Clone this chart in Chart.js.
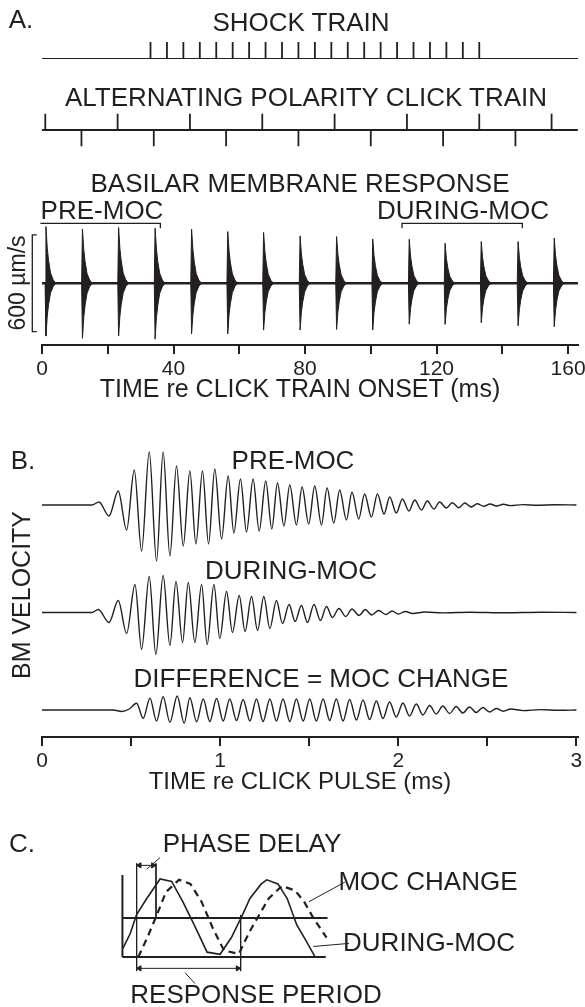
<!DOCTYPE html>
<html>
<head>
<meta charset="utf-8">
<script src="https://cdn.jsdelivr.net/npm/chart.js@4.4.1/dist/chart.umd.min.js"></script>
<style>
  html, body { margin: 0; padding: 0; background: #fff; }
  body { position: relative; width: 585px; height: 1007px; overflow: hidden;
         font-family: "Liberation Sans", Arial, sans-serif; color: #231f20; }
  canvas { position: absolute; left: 0; top: 0; }
  .lbl { position: absolute; white-space: nowrap; line-height: 1; font-size: 26px;
         transform: translate(-50%, -50%); }
  .ax { font-size: 25px; }
  .rot { transform: translate(-50%, -50%) rotate(-90deg); }
</style>
</head>
<body>
<canvas id="shock" width="640" height="1007"></canvas>
<canvas id="clicks" width="640" height="1007"></canvas>
<canvas id="bm" width="640" height="385"></canvas>
<canvas id="pulse" width="640" height="777"></canvas>
<canvas id="scheme" width="640" height="1007"></canvas>

<div class="lbl" style="left:21px;top:19px">A.</div>
<div class="lbl" style="left:301px;top:22px">SHOCK TRAIN</div>
<div class="lbl" style="left:306px;top:97px">ALTERNATING POLARITY CLICK TRAIN</div>
<div class="lbl" style="left:300px;top:183px">BASILAR MEMBRANE RESPONSE</div>
<div class="lbl" style="left:102px;top:210px">PRE-MOC</div>
<div class="lbl" style="left:463px;top:210px">DURING-MOC</div>
<div class="lbl ax rot" style="left:17px;top:283px;font-size:23px">600 µm/s</div>
<div class="lbl ax" style="left:300px;top:388px">TIME re CLICK TRAIN ONSET (ms)</div>

<div class="lbl" style="left:23px;top:460px">B.</div>
<div class="lbl" style="left:293px;top:460px">PRE-MOC</div>
<div class="lbl" style="left:291px;top:570px">DURING-MOC</div>
<div class="lbl" style="left:321px;top:678px">DIFFERENCE = MOC CHANGE</div>
<div class="lbl ax rot" style="left:21px;top:595px">BM VELOCITY</div>
<div class="lbl ax" style="left:300px;top:781px;font-size:24px">TIME re CLICK PULSE (ms)</div>

<div class="lbl" style="left:22px;top:843px">C.</div>
<div class="lbl" style="left:252px;top:843px">PHASE DELAY</div>
<div class="lbl" style="left:428px;top:881px">MOC CHANGE</div>
<div class="lbl" style="left:429px;top:942px">DURING-MOC</div>
<div class="lbl" style="left:256px;top:994px">RESPONSE PERIOD</div>

<script>
// A. shock train / click train / basilar membrane response, time in ms
const shockTimes = [33, 38, 43, 48, 53, 58, 63, 68, 73, 78, 83, 88, 93, 98, 103, 108, 113, 118, 123, 128, 133];
const clickTimes = [1, 12, 23, 34, 45, 56, 67, 78, 89, 100, 111, 122, 133, 144, 155];
const clickPolarity = [1, -1, 1, -1, 1, -1, 1, -1, 1, -1, 1, -1, 1, -1, 1];
const burstTimes = [1.2, 12.3, 23.3, 34.4, 45.5, 56.5, 67.4, 78.5, 89.6, 100.6, 111.7, 122.6, 133.6, 144.8, 155.8];
const burstPeak = [352, 337, 346, 342, 335, 321, 315, 294, 290, 275, 273, 248, 259, 259, 280];      // um/s
const burstTrough = [-327, -341, -327, -346, -313, -313, -290, -290, -286, -290, -253, -255, -244, -263, -269];
const trainTicks = [0, 20, 40, 60, 80, 100, 120, 140, 160];
const trainTickLabels = [0, 40, 80, 120, 160];
const scaleBar = 600;            // um/s
const preMocWindow = [-0.5, 36];
const duringMocWindow = [109.5, 146.1];

// B. single click responses, time in ms, velocity in arbitrary units
const preTimes = [0, 0.28, 0.32, 0.376, 0.428, 0.475, 0.518, 0.559, 0.602, 0.643, 0.68, 0.718, 0.755, 0.793, 0.83, 0.864, 0.901, 0.935, 0.97, 1.008,
  1.045, 1.077, 1.114, 1.148, 1.185, 1.219, 1.256, 1.29, 1.322, 1.358, 1.391, 1.428, 1.46, 1.497, 1.531, 1.569, 1.6, 1.638, 1.671, 1.709,
  1.74, 1.778, 1.811, 1.849, 1.883, 1.92, 1.952, 1.989, 2.023, 2.06, 2.092, 2.13, 2.163, 2.2, 2.232, 2.27, 2.303, 2.34, 2.373, 2.41,
  2.443, 2.48, 2.515, 2.552, 2.59, 2.63, 2.7, 2.78, 2.88, 3];
const preAmp = [0, 0, 3, -11, 14, -25, 35, -46, 53, -56, 53, -51, 39, -41, 34, -39, 34, -39, 36, -34,
  29, -28, 26, -27, 26, -26, 24, -24, 22, -21, 20, -20, 18, -19, 19, -20, 17, -18, 15, -15,
  13, -14, 11, -12, 11, -9, 8, -8, 6, -6, 5, -5, 4, -4, 3, -3, 2.3, -2.7, 2, -2,
  1.3, -1.3, 1, -1, 0.7, -0.6, 0.4, -0.3, 0.3, 0];
const duringTimes = [0, 0.28, 0.316, 0.376, 0.428, 0.475, 0.522, 0.559, 0.602, 0.639, 0.68, 0.718, 0.752, 0.789, 0.821, 0.858, 0.896, 0.927, 0.965, 0.998,
  1.036, 1.069, 1.107, 1.14, 1.176, 1.21, 1.245, 1.279, 1.316, 1.35, 1.387, 1.421, 1.456, 1.49, 1.527, 1.563, 1.597, 1.63, 1.667, 1.705,
  1.74, 1.78, 1.815, 1.85, 1.89, 1.93, 1.965, 2, 2.04, 2.08, 2.15, 2.25, 2.4, 2.6, 2.8, 3];
const duringAmp = [0, 0, 3, -10, 12, -21, 28, -37, 36, -42, 37, -33, 31, -30, 30, -30, 28, -32, 28, -26,
  21, -20, 17, -19, 16, -18, 16, -16, 12, -11, 8, -9, 7, -10, 8, -8, 6, -5, 4, -4,
  3.5, -3, 3, -2.5, 2, -2, 1.5, -1.5, 1, -1, 0.5, -0.4, 0.3, -0.3, 0.2, 0];
const diffTimes = [0, 0.4, 0.447, 0.49, 0.531, 0.568, 0.606, 0.643, 0.68, 0.718, 0.759, 0.798, 0.83, 0.868, 0.905, 0.942, 0.98, 1.017, 1.054, 1.092,
  1.129, 1.167, 1.204, 1.241, 1.279, 1.316, 1.353, 1.391, 1.428, 1.466, 1.503, 1.54, 1.578, 1.615, 1.652, 1.69, 1.727, 1.765, 1.802, 1.839,
  1.877, 1.914, 1.951, 1.989, 2.026, 2.063, 2.101, 2.138, 2.176, 2.213, 2.25, 2.288, 2.325, 2.362, 2.4, 2.437, 2.475, 2.512, 2.55, 2.59,
  2.63, 2.7, 2.8, 2.9, 3];
const diffAmp = [0, 0, -1.5, 1, 6.7, -8.3, 11.7, -11, 13.3, -12.3, 14, -13.3, 12.3, -11.7, 11, -11.5, 11.5, -11, 11, -10.5,
  10.5, -11, 11, -11.5, 11, -11, 11, -11.5, 11, -11, 11, -11, 11, -10.5, 11, -11, 10.5, -10, 10, -9.5,
  9, -8.5, 8, -7, 7, -6, 6, -5, 4.5, -4, 4, -3.5, 3.5, -3, 3, -2.5, 2.5, -2, 1.5, -1.2,
  1, -0.6, 0.4, -0.3, 0];
const pulseTicks = [0, 0.5, 1, 1.5, 2, 2.5, 3];
const pulseTickLabels = [0, 1, 2, 3];

// C. schematic, x in arbitrary time units, y in units of the response amplitude
const duringShape = [[0.2, -0.78], [3.7, -0.41], [6.9, 0.09], [11.8, 0.5], [18.3, 1], [23.9, 0.94], [29.3, 0.42], [34.8, -0.17],
  [41.1, -0.875], [47.4, -0.93], [52.9, -0.5], [58.3, 0.08], [61.9, 0.5], [67.4, 0.875], [70.1, 0.98], [75.5, 0.875],
  [80, 0.5], [84.6, -0.17], [89.1, -0.58], [93.6, -1]];
const changeShape = [[7.7, -1], [12.1, -0.5], [16.7, 0.08], [21.2, 0.67], [27.5, 0.98], [33, 0.875], [38.4, 0.42], [43.8, -0.25],
  [49.3, -0.83], [56.5, -0.92], [61.9, -0.33], [67.4, 0.17], [71, 0.5], [77.4, 0.82], [83.7, 0.71], [88.2, 0.42],
  [92.7, 0], [99.1, -0.5]];
const phaseDelay = [6.9, 16.3];
const responsePeriod = [6.9, 57.4];

(() => {
  const ink = '#231f20';
  const W = 640;
  Chart.defaults.font.family = '"Liberation Sans", Arial, sans-serif';
  Chart.defaults.color = ink;

  const line = (data, extra) => Object.assign({
    data, borderColor: ink, borderWidth: 2, pointRadius: 0, tension: 0, fill: false
  }, extra || {});

  const xy = (xs, ys, off) => xs.map((x, i) => ({x, y: ys[i] + (off || 0)}));
  const pairs = (arr) => arr.map(([x, y]) => ({x, y}));

  // hidden-axis frame: chart area placed at l..r, t..b on the canvas
  const frame = (canvasH, area, xr, yr, axis) => {
    const opts = {
      responsive: false,
      animation: false,
      events: [],
      layout: {padding: {left: area.l, right: W - area.r, top: area.t, bottom: axis ? 0 : canvasH - area.b}},
      plugins: {legend: {display: false}, tooltip: {enabled: false}},
      scales: {
        x: {type: 'linear', min: xr[0], max: xr[1], display: false},
        y: {type: 'linear', min: yr[0], max: yr[1], display: false}
      }
    };
    if (axis) {
      Object.assign(opts.scales.x, {
        display: true,
        afterBuildTicks: s => { s.ticks = axis.ticks.map(v => ({value: v})); },
        afterFit: s => { s.height = canvasH - area.b; },
        ticks: {autoSkip: false, maxRotation: 0, padding: 3, font: {size: 21}, color: ink,
                callback: v => axis.labels.includes(v) ? String(v) : ''},
        grid: {drawOnChartArea: false, drawTicks: true, tickLength: 9, lineWidth: 2, color: ink},
        border: {display: true, width: 2, color: ink}
      });
    }
    return opts;
  };

  const trainX = [0, 163];   // ms, 42px .. 578px

  // shock train
  const shockTicks = [];
  shockTimes.forEach(t => shockTicks.push({x: t, y: 0}, {x: t, y: 1}, {x: t, y: null}));
  new Chart(document.getElementById('shock'), {
    type: 'line',
    data: {datasets: [
      line([{x: trainX[0], y: 0}, {x: trainX[1], y: 0}]),
      line(shockTicks, {borderWidth: 1.8, spanGaps: false})
    ]},
    options: frame(1007, {l: 42, r: 577.9, t: 42, b: 59}, trainX, [0, 1])
  });

  // alternating polarity click train
  const clickTicks = [];
  clickTimes.forEach((t, i) => clickTicks.push({x: t, y: 0}, {x: t, y: clickPolarity[i]}, {x: t, y: null}));
  new Chart(document.getElementById('clicks'), {
    type: 'line',
    data: {datasets: [
      line([{x: trainX[0], y: 0}, {x: trainX[1], y: 0}]),
      line(clickTicks, {borderWidth: 1.8, spanGaps: false})
    ]},
    options: frame(1007, {l: 42, r: 577.9, t: 113.5, b: 146.5}, trainX, [-1, 1])
  });

  // basilar membrane response: each click response drawn as a filled spike
  const spike = [[-0.25, 0], [0, 1], [0.4, 0.62], [0.8, 0.4], [1.4, 0.18], [2.2, 0.06], [3, 0]];
  const envelope = vals => {
    const pts = [{x: trainX[0], y: 0}];
    burstTimes.forEach((t, i) => spike.forEach(([dt, f]) => pts.push({x: t + dt, y: vals[i] * f})));
    pts.push({x: trainX[1], y: 0});
    return pts;
  };
  const bracket = (w) => [{x: w[0], y: 341}, {x: w[0], y: 372}, {x: w[1], y: 372}, {x: w[1], y: 341}];
  const half = scaleBar / 2;
  new Chart(document.getElementById('bm'), {
    type: 'line',
    data: {datasets: [
      line([{x: trainX[0], y: 0}, {x: trainX[1], y: 0}], {borderWidth: 2.5}),
      line(envelope(burstPeak), {borderWidth: 1, fill: 'origin', backgroundColor: ink}),
      line(envelope(burstTrough), {borderWidth: 1, fill: 'origin', backgroundColor: ink}),
      line([{x: -1.6, y: half}, {x: -2.95, y: half}, {x: -2.95, y: -half}, {x: -1.6, y: -half}], {borderWidth: 1.3, clip: false}),
      line(bracket(preMocWindow), {borderWidth: 1.3, clip: false}),
      line(bracket(duringMocWindow), {borderWidth: 1.3, clip: false})
    ]},
    options: frame(385, {l: 42, r: 577.9, t: 218.8, b: 345}, trainX, [-382.5, 400],
                   {ticks: trainTicks, labels: trainTickLabels})
  });

  // B. single click responses stacked above the time axis
  const offsets = {pre: 232, during: 124.5, diff: 27};
  const wave = {borderWidth: 1.4, cubicInterpolationMode: 'monotone'};
  new Chart(document.getElementById('pulse'), {
    type: 'line',
    data: {datasets: [
      line(xy(preTimes, preAmp, offsets.pre), wave),
      line(xy(duringTimes, duringAmp, offsets.during), wave),
      line(xy(diffTimes, diffAmp, offsets.diff), wave)
    ]},
    options: frame(777, {l: 42, r: 578.2, t: 440, b: 737}, [0, 3.01], [0, 297],
                   {ticks: pulseTicks, labels: pulseTickLabels})
  });

  // C. schematic of phase delay and response period
  const thin = {borderWidth: 1};
  const arrow = (y, a, b) => line([{x: a, y}, {x: b, y}], {
    borderWidth: 1, pointStyle: 'triangle', pointRadius: 3, pointRotation: [-90, 90],
    pointBackgroundColor: ink, pointBorderColor: ink
  });
  new Chart(document.getElementById('scheme'), {
    type: 'line',
    data: {datasets: [
      line([{x: 0, y: -1}, {x: 0, y: 1.1}]),
      line([{x: 0, y: 0}, {x: 99.6, y: 0}]),
      line([{x: 0, y: -1}, {x: 98.7, y: -1}]),
      line(pairs(duringShape), {borderWidth: 1.6}),
      line(pairs(changeShape), {borderWidth: 2.2, borderDash: [7, 5]}),
      line([{x: phaseDelay[0], y: 1.4}, {x: phaseDelay[0], y: -1.36}], thin),
      line([{x: phaseDelay[1], y: 1.4}, {x: phaseDelay[1], y: 0}], thin),
      line([{x: responsePeriod[1], y: 0.08}, {x: responsePeriod[1], y: -1.36}], thin),
      arrow(1.35, phaseDelay[0] + 1.4, phaseDelay[1] - 1.4),
      arrow(-1.29, responsePeriod[0] + 1.4, responsePeriod[1] - 1.4),
      line([{x: 11.8, y: 1.25}, {x: 18.3, y: 1.55}], thin),
      line([{x: 30.4, y: -1.4}, {x: 35.2, y: -1.68}], thin),
      line([{x: 90.6, y: 0.42}, {x: 108, y: 0.92}], thin),
      line([{x: 92.7, y: -0.73}, {x: 110, y: -0.65}], thin)
    ]},
    options: frame(1007, {l: 118.3, r: 359.3, t: 847.8, b: 986.3}, [-2, 115], [-1.75, 1.8])
  });
})();
</script>
</body>
</html>
